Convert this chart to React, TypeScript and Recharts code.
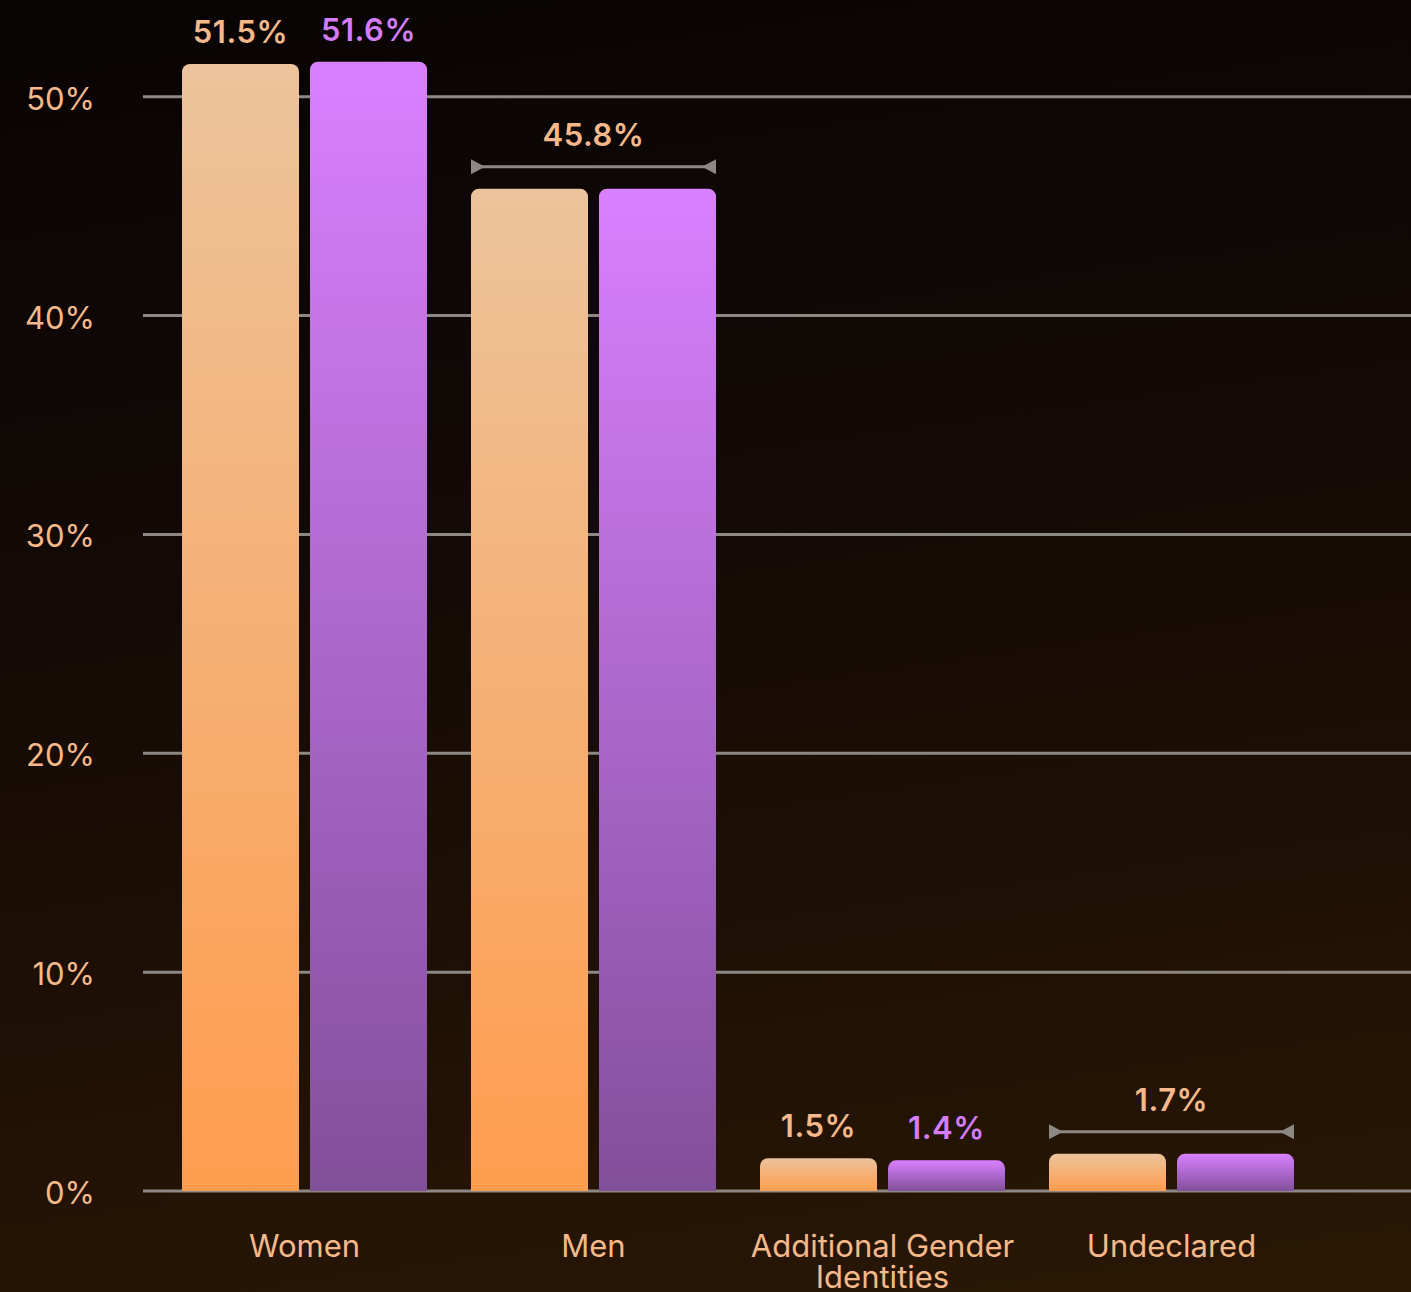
import React from 'react';
import { BarChart, Bar, XAxis, YAxis, CartesianGrid, LabelList } from 'recharts';

const categories = ['Women', 'Men', 'Additional Gender Identities', 'Undeclared'];
const orangeValues = [51.5, 45.8, 1.5, 1.7];
const purpleValues = [51.6, 45.8, 1.4, 1.7];
const yTicks = [0, 10, 20, 30, 40, 50];

const data = categories.map((name, i) => ({
  name,
  a: orangeValues[i],
  b: purpleValues[i],
  shared: orangeValues[i] === purpleValues[i],
}));

const FONT = 'Inter, "Open Sans", sans-serif';
const ORANGE_TEXT = '#f8b98a';
const PURPLE_TEXT = '#d57cfa';
const GRID = '#8d8884';
const BAR_SIZE = 117;
const BAR_GAP = 11;
const FS = 31;
const TICK_WRAP = 280;

const fmt = (v: number) => `${v}%`;

let measureCtx: CanvasRenderingContext2D | null = null;
const measure = (s: string) => {
  if (!measureCtx) {
    const c = document.createElement('canvas');
    measureCtx = c.getContext('2d');
  }
  if (!measureCtx) return s.length * FS * 0.55;
  measureCtx.font = `400 ${FS}px ${FONT}`;
  return measureCtx.measureText(s).width;
};

const wrap = (s: string, maxW: number) => {
  const words = s.split(' ');
  const lines: string[] = [];
  let cur = '';
  words.forEach((w) => {
    const next = cur ? `${cur} ${w}` : w;
    if (cur && measure(next) > maxW) {
      lines.push(cur);
      cur = w;
    } else {
      cur = next;
    }
  });
  if (cur) lines.push(cur);
  return lines;
};

const XTick = (props: any) => {
  const { x, y, payload } = props;
  const lines = wrap(String(payload.value), TICK_WRAP);
  return (
    <text
      x={x}
      y={y}
      textAnchor="middle"
      fill={ORANGE_TEXT}
      fontSize={FS}
      fontFamily={FONT}
      fontWeight={400}
    >
      {lines.map((l, i) => (
        <tspan key={i} x={x} dy={i === 0 ? 22 : 31}>
          {l}
        </tspan>
      ))}
    </text>
  );
};

const makeLabel = (color: string, isOrange: boolean) => (props: any) => {
  const { x, y, width, value, index } = props;
  const row = data[index];
  if (!row) return null;
  const textProps = {
    textAnchor: 'middle' as const,
    fontSize: FS,
    fontWeight: 600,
    fontFamily: FONT,
    letterSpacing: 0.5,
  };
  if (row.shared) {
    if (!isOrange) return null;
    const left = x;
    const right = x + width * 2 + BAR_GAP;
    const by = y - 22;
    return (
      <g>
        <line x1={left} x2={right} y1={by} y2={by} stroke={GRID} strokeWidth={3} />
        <polygon points={`${left},${by - 7.5} ${left + 14},${by} ${left},${by + 7.5}`} fill={GRID} />
        <polygon points={`${right},${by - 7.5} ${right - 14},${by} ${right},${by + 7.5}`} fill={GRID} />
        <text x={(left + right) / 2} y={y - 43} fill={ORANGE_TEXT} {...textProps}>
          {fmt(value)}
        </text>
      </g>
    );
  }
  return (
    <text x={x + width / 2} y={y - 21} fill={color} {...textProps}>
      {fmt(value)}
    </text>
  );
};

export default function App() {
  return (
    <div
      style={{
        position: 'absolute',
        left: 0,
        top: 0,
        width: 1411,
        height: 1292,
        background: 'linear-gradient(172deg, #080403 0%, #120906 35%, #1e1004 70%, #2a1804 100%)',
        fontFamily: FONT,
      }}
    >
      <BarChart
        width={1411}
        height={1292}
        data={data}
        margin={{ top: 53, right: 0, bottom: 0, left: 0 }}
        barSize={BAR_SIZE}
        barGap={BAR_GAP}
      >
        <defs>
          <linearGradient id="gOrange" x1="0" y1="0" x2="0" y2="1">
            <stop offset="0%" stopColor="#ecc39b" />
            <stop offset="100%" stopColor="#ff9d4e" />
          </linearGradient>
          <linearGradient id="gPurple" x1="0" y1="0" x2="0" y2="1">
            <stop offset="0%" stopColor="#d980ff" />
            <stop offset="100%" stopColor="#824f9a" />
          </linearGradient>
        </defs>
        <CartesianGrid vertical={false} stroke={GRID} strokeWidth={3} horizontalValues={yTicks} />
        <XAxis
          dataKey="name"
          height={101}
          axisLine={false}
          tickLine={false}
          tickSize={0}
          tickMargin={44}
          interval={0}
          padding={{ left: 17, right: 95 }}
          tick={<XTick />}
        />
        <YAxis
          width={143}
          domain={[0, 52]}
          ticks={yTicks}
          axisLine={false}
          tickLine={false}
          tickSize={0}
          tickMargin={48}
          tickFormatter={fmt}
          tick={{ fill: ORANGE_TEXT, fontSize: FS, fontFamily: FONT, fontWeight: 400, dy: 2 }}
        />
        <Bar dataKey="a" fill="url(#gOrange)" radius={[8, 8, 0, 0]} isAnimationActive={false}>
          <LabelList dataKey="a" content={makeLabel(ORANGE_TEXT, true)} />
        </Bar>
        <Bar dataKey="b" fill="url(#gPurple)" radius={[8, 8, 0, 0]} isAnimationActive={false}>
          <LabelList dataKey="b" content={makeLabel(PURPLE_TEXT, false)} />
        </Bar>
      </BarChart>
    </div>
  );
}
